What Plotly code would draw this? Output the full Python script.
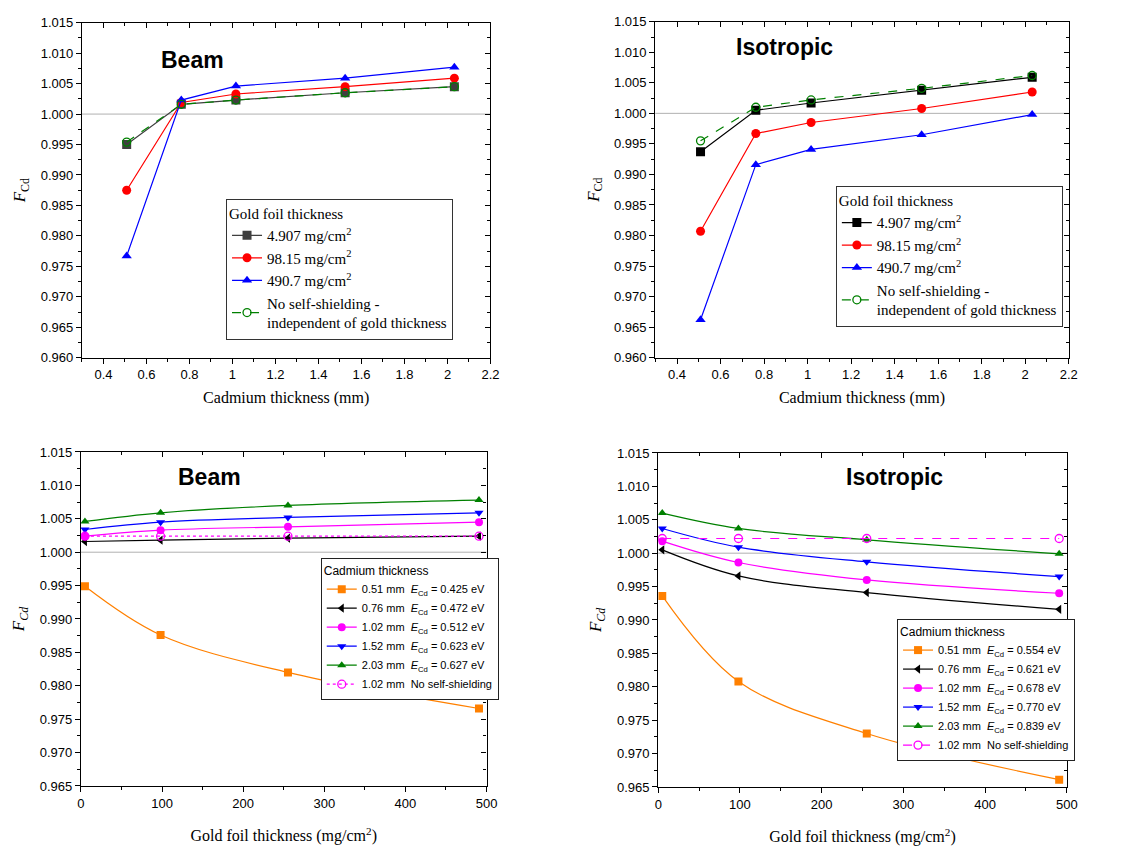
import plotly.graph_objects as go

# ---------------- data ----------------
cd_thickness = [0.508, 0.762, 1.016, 1.524, 2.032]

beam_4907 = [0.9950, 1.0016, 1.0023, 1.0035, 1.0045]
beam_9815 = [0.9875, 1.0019, 1.0033, 1.0045, 1.0059]
beam_4907b = [0.9767, 1.0023, 1.0046, 1.0059, 1.0077]
beam_noss = [0.9954, 1.0016, 1.0023, 1.0035, 1.0045]

iso_4907 = [0.9937, 1.0005, 1.0017, 1.0038, 1.0059]
iso_9815 = [0.9807, 0.9967, 0.9985, 1.0008, 1.0035]
iso_4907b = [0.9662, 0.9916, 0.9941, 0.9965, 0.9998]
iso_noss = [0.9955, 1.0010, 1.0022, 1.0041, 1.0062]

gold_thickness = [4.907, 98.15, 255.2, 490.7]

beam_cd051 = [0.9949, 0.9876, 0.9820, 0.9766]
beam_cd076 = [1.0016, 1.0018, 1.0021, 1.0024]
beam_cd102 = [1.0024, 1.0033, 1.0038, 1.0045]
beam_cd152 = [1.0034, 1.0045, 1.0052, 1.0059]
beam_cd203 = [1.0046, 1.0059, 1.0070, 1.0078]
beam_cd102_noss = [1.0024, 1.0024, 1.0024, 1.0024]

iso_cd051 = [0.9936, 0.9808, 0.9730, 0.9661]
iso_cd076 = [1.0005, 0.9966, 0.9941, 0.9916]
iso_cd102 = [1.0018, 0.9986, 0.9960, 0.9940]
iso_cd152 = [1.0037, 1.0009, 0.9987, 0.9965]
iso_cd203 = [1.0060, 1.0037, 1.0020, 0.9999]
iso_cd102_noss = [1.0022, 1.0022, 1.0022, 1.0022]

top_names = ["4.907 mg/cm<sup>2</sup>", "98.15 mg/cm<sup>2</sup>", "490.7 mg/cm<sup>2</sup>",
             "No self-shielding -<br>independent of gold thickness"]
beam_energies = ["0.425", "0.472", "0.512", "0.623", "0.627"]
iso_energies = ["0.554", "0.621", "0.678", "0.770", "0.839"]
cd_labels = ["0.51", "0.76", "1.02", "1.52", "2.03"]

SERIF = "Liberation Serif"
SANS = "Liberation Sans"
NB = "\u00a0"

fig = go.Figure()

# ---------------- top panels ----------------
def add_top(xa, ya, legend, s1, s2, s3, s4, sq_color):
    specs = [
        (s1, sq_color, "square", "solid", sq_color),
        (s2, "#FF0000", "circle", "solid", "#FF0000"),
        (s3, "#0000FF", "triangle-up", "solid", "#0000FF"),
    ]
    for (vals, lc, sym, dash, mc), name in zip(specs, top_names[:3]):
        fig.add_trace(go.Scatter(
            x=cd_thickness, y=vals, name=name, mode="lines+markers",
            line=dict(color=lc, width=1.2, dash=dash),
            marker=dict(symbol=sym, size=9, color=mc),
            xaxis=xa, yaxis=ya, legend=legend))
    fig.add_trace(go.Scatter(
        x=cd_thickness, y=s4, name=top_names[3], mode="lines+markers",
        line=dict(color="#008000", width=1.2, dash="dash"),
        marker=dict(symbol="circle-open", size=8, color="#008000", line=dict(width=1.3)),
        xaxis=xa, yaxis=ya, legend=legend))

add_top("x", "y", "legend", beam_4907, beam_9815, beam_4907b, beam_noss, "#3f3f3f")
add_top("x2", "y2", "legend2", iso_4907, iso_9815, iso_4907b, iso_noss, "#000000")

# ---------------- bottom panels ----------------
def add_bottom(xa, ya, legend, series, energies, noss, noss_dash):
    colors = ["#FF8000", "#000000", "#FF00FF", "#0000FF", "#008000"]
    symbols = ["square", "triangle-left", "circle", "triangle-down", "triangle-up"]
    for vals, c, sym, lab, e in zip(series, colors, symbols, cd_labels, energies):
        fig.add_trace(go.Scatter(
            x=gold_thickness, y=vals, mode="lines+markers",
            name=f"{lab} mm{NB}{NB}<i>E</i><sub>Cd</sub> = {e} eV",
            line=dict(color=c, width=1.2, shape="spline", smoothing=1.0),
            marker=dict(symbol=sym, size=8, color=c),
            xaxis=xa, yaxis=ya, legend=legend))
    fig.add_trace(go.Scatter(
        x=gold_thickness, y=noss, mode="lines+markers",
        name=f"1.02 mm{NB}{NB}No self-shielding",
        line=dict(color="#FF00FF", width=1.2, dash=noss_dash),
        marker=dict(symbol="circle-open", size=8, color="#FF00FF", line=dict(width=1.3)),
        xaxis=xa, yaxis=ya, legend=legend))

add_bottom("x3", "y3", "legend3",
           [beam_cd051, beam_cd076, beam_cd102, beam_cd152, beam_cd203],
           beam_energies, beam_cd102_noss, "dot")
add_bottom("x4", "y4", "legend4",
           [iso_cd051, iso_cd076, iso_cd102, iso_cd152, iso_cd203],
           iso_energies, iso_cd102_noss, "dash")

# ---------------- axes ----------------
W, H = 1135, 849
panels = [
    (79, 493, 16, 357, [0.3, 2.2], [0.960, 1.015], 0.2, 0.1, 0.005, 0.0025,
     "Cadmium thickness (mm)", "<i>F</i><sub>Cd</sub>", 0.4, 10),
    (660, 1079, 15, 357, [0.3, 2.2], [0.960, 1.015], 0.2, 0.1, 0.005, 0.0025,
     "Cadmium thickness (mm)", "<i>F</i><sub>Cd</sub>", 0.4, 10),
    (78, 489, 453, 793, [0, 500], [0.965, 1.015], 100, 50, 0.005, 0.0025,
     "Gold foil thickness (mg/cm<sup>2</sup>)", "<i>F<sub>Cd</sub></i>", 0, 20),
    (663, 1077, 454, 794, [0, 500], [0.965, 1.015], 100, 50, 0.005, 0.0025,
     "Gold foil thickness (mg/cm<sup>2</sup>)", "<i>F<sub>Cd</sub></i>", 0, 20),
]

layout_axes = {}
for i, (x0, x1, yt, yb, xr, yr, xd, xm, yd, ym, xt, yt_title, x0tick, xstand) in enumerate(panels, start=1):
    sx = "" if i == 1 else str(i)
    dx = [x0 / W, x1 / W]
    dy = [1 - yb / H, 1 - yt / H]
    common = dict(showgrid=False, zeroline=False, showline=True, linecolor="black",
                  linewidth=1.3, tickcolor="black", tickwidth=1, ticklen=5,
                  tickfont=dict(family=SANS, size=13, color="black"))
    layout_axes[f"xaxis{sx}"] = dict(
        domain=dx, range=xr, anchor=f"y{sx}", ticks="outside", tick0=x0tick, dtick=xd,
        mirror=True,
        minor=dict(ticks="outside", ticklen=3, dtick=xm, tick0=0, tickcolor="black", showgrid=False),
        title=dict(text=xt, font=dict(family=SERIF, size=16, color="black"), standoff=xstand),
        **common)
    layout_axes[f"yaxis{sx}"] = dict(
        domain=dy, range=yr, anchor=f"x{sx}", ticks="outside", tick0=0.96, dtick=yd,
        tickformat=".3f", mirror=True,
        minor=dict(ticks="outside", ticklen=3, dtick=ym, tick0=0.96, tickcolor="black", showgrid=False),
        title=dict(text=yt_title, font=dict(family=SERIF, size=17, color="black"), standoff=10),
        **common)
    # mirrored axes (ticks pointing inward on top and right)
    ox = str(i + 4)
    mirror_common = dict(common)
    mirror_common.pop("tickfont")
    layout_axes[f"xaxis{ox}"] = dict(
        overlaying=f"x{sx}", side="top", anchor=f"y{sx}", range=xr, ticks="inside",
        tick0=x0tick, dtick=xd, showticklabels=False,
        minor=dict(ticks="inside", ticklen=3, dtick=xm, tick0=0, tickcolor="black", showgrid=False),
        **mirror_common)
    layout_axes[f"yaxis{ox}"] = dict(
        overlaying=f"y{sx}", side="right", anchor=f"x{sx}", range=yr, ticks="inside",
        tick0=0.96, dtick=yd, showticklabels=False,
        minor=dict(ticks="inside", ticklen=3, dtick=ym, tick0=0.96, tickcolor="black", showgrid=False),
        **mirror_common)
    # invisible helper traces so the mirrored axes are drawn
    fig.add_trace(go.Scatter(x=[xr[0]], y=[yr[0]], xaxis=f"x{ox}", yaxis=f"y{sx}",
                             showlegend=False, hoverinfo="skip", mode="markers",
                             marker=dict(opacity=0, size=1), cliponaxis=True))
    fig.add_trace(go.Scatter(x=[xr[0]], y=[yr[0]], xaxis=f"x{sx}", yaxis=f"y{ox}",
                             showlegend=False, hoverinfo="skip", mode="markers",
                             marker=dict(opacity=0, size=1), cliponaxis=True))

fig.update_layout(**layout_axes)

# reference line at 1.000
for i in range(1, 5):
    sx = "" if i == 1 else str(i)
    fig.add_shape(type="line", xref=f"x{sx} domain", yref=f"y{sx}", x0=0, x1=1, y0=1.0, y1=1.0,
                  line=dict(color="#b0b0b0", width=1), layer="below")

# panel titles
titles = [("Beam", 191, 54), ("Isotropic", 791, 41), ("Beam", 208, 478), ("Isotropic", 902, 478)]
for t, px, py in titles:
    fig.add_annotation(text=f"<b>{t}</b>", x=px / W, y=1 - py / H, xref="paper", yref="paper",
                       showarrow=False, xanchor="center", yanchor="middle",
                       font=dict(family=SANS, size=23, color="black"))

top_legend = dict(bgcolor="white", bordercolor="#333333", borderwidth=1,
                  font=dict(family=SERIF, size=15, color="black"),
                  title=dict(text="Gold foil thickness", font=dict(family=SERIF, size=15, color="black")),
                  xanchor="left", yanchor="top", tracegroupgap=0, itemwidth=30)
bot_legend = dict(bgcolor="white", bordercolor="#222222", borderwidth=1,
                  font=dict(family=SANS, size=11, color="black"),
                  title=dict(text="Cadmium thickness", font=dict(family=SANS, size=12, color="black")),
                  xanchor="left", yanchor="top", tracegroupgap=0, itemwidth=30)

fig.update_layout(
    width=W, height=H,
    margin=dict(l=0, r=0, t=0, b=0),
    paper_bgcolor="white", plot_bgcolor="white",
    legend=dict(x=225 / W, y=1 - 195 / H, **top_legend),
    legend2=dict(x=843 / W, y=1 - 182 / H, **top_legend),
    legend3=dict(x=321 / W, y=1 - 561 / H, **bot_legend),
    legend4=dict(x=905 / W, y=1 - 623 / H, **bot_legend),
)

fig.write_html("out.html")
